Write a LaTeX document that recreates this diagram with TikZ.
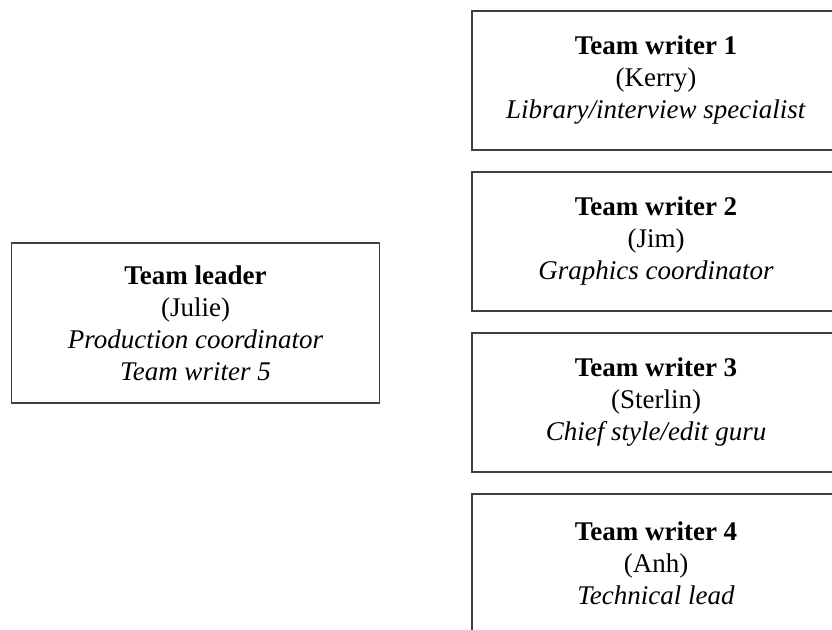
\documentclass[tikz,border=0pt]{standalone}
\usepackage{fontspec}
\setmainfont{Liberation Serif}
\usepackage{tikz}
\usetikzlibrary{positioning}

\begin{document}
\begin{tikzpicture}[
      x=1pt, y=1pt,
      box/.style={draw=black!75, line width=1.6pt, align=center, minimum width=368pt, minimum height=139pt,
        font=\fontsize{27}{32}\selectfont},
      node distance=20.4pt
    ]
    \clip (0,0) rectangle (832,629);
    \fill[white] (0,0) rectangle (832,629);
    % Team writers
    \node[box] (writerA) at (656,548.5) {\textbf{Team writer 1}\\(Kerry)\\\textit{Library/interview specialist}};
    \node[box, below=of writerA] (writerB) {\textbf{Team writer 2}\\(Jim)\\\textit{Graphics coordinator}};
    \node[box, below=of writerB] (writerC) {\textbf{Team writer 3}\\(Sterlin)\\\textit{Chief style/edit guru}};
    \node[box, below=of writerC] (writerD) {\textbf{Team writer 4}\\(Anh)\\\textit{Technical lead}};
    % Team leader
    \node[box, minimum height=160pt] (leader) at (195.5,306) {\textbf{Team leader}\\(Julie)\\\textit{Production coordinator}\\\textit{Team writer 5}};
  \end{tikzpicture}
\end{document}
